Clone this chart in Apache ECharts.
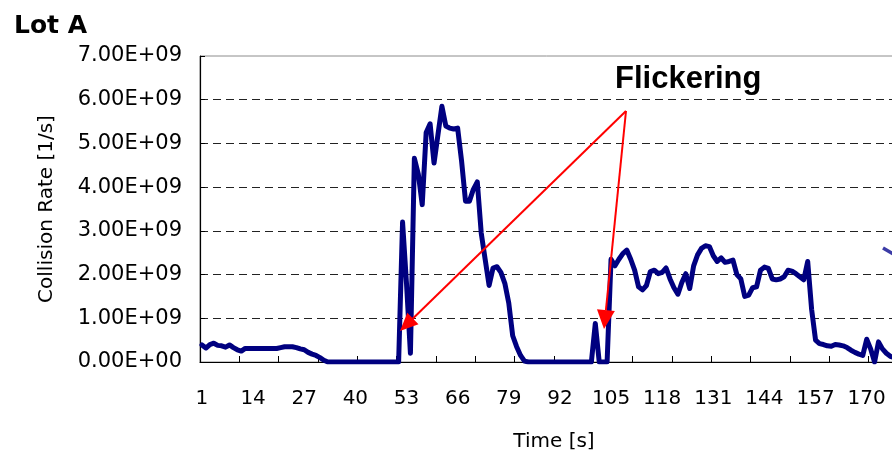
<!DOCTYPE html>
<html>
<head>
<meta charset="utf-8">
<title>Lot A</title>
<script src="https://cdn.jsdelivr.net/npm/echarts@6/dist/echarts.min.js"></script>
<style>
  html, body { margin: 0; padding: 0; background: #fff; }
  #chart { width: 892px; height: 455px; }
</style>
</head>
<body>
<div id="chart"></div>
<script>
// Time axis: one category per second
const timeSec = Array.from({ length: 180 }, (_, i) => i + 1);

// Collision rate per second, in units of 1E+09 [1/s]
const rateE9 = [
  0.39, 0.32, 0.40, 0.43, 0.38, 0.37, 0.34, 0.39, 0.33, 0.28,
  0.25, 0.31, 0.31, 0.31, 0.31, 0.31, 0.31, 0.31, 0.31, 0.31,
  0.33, 0.35, 0.35, 0.35, 0.33, 0.30, 0.28, 0.22, 0.18, 0.15,
  0.10, 0.04, 0, 0, 0, 0, 0, 0, 0, 0,
  0, 0, 0, 0, 0, 0, 0, 0, 0, 0,
  0, 3.20, 1.80, 0.20, 4.66, 4.30, 3.60, 5.25, 5.45, 4.55,
  5.20, 5.85, 5.40, 5.35, 5.33, 5.35, 4.60, 3.68, 3.68, 3.95,
  4.12, 2.95, 2.35, 1.75, 2.15, 2.18, 2.05, 1.80, 1.35, 0.60,
  0.35, 0.15, 0.02, 0, 0, 0, 0, 0, 0, 0,
  0, 0, 0, 0, 0, 0, 0, 0, 0, 0,
  0.88, 0, 0, 0, 2.35, 2.20, 2.35, 2.48, 2.56, 2.35,
  2.10, 1.72, 1.65, 1.75, 2.07, 2.10, 2.02, 2.05, 2.15, 1.90,
  1.70, 1.55, 1.82, 2.02, 1.68, 2.20, 2.45, 2.60, 2.66, 2.64,
  2.43, 2.30, 2.38, 2.28, 2.30, 2.33, 2.00, 1.90, 1.50, 1.53,
  1.70, 1.72, 2.10, 2.17, 2.14, 1.90, 1.88, 1.90, 1.95, 2.10,
  2.08, 2.02, 1.95, 1.88, 2.30, 1.20, 0.50, 0.42, 0.40, 0.37,
  0.36, 0.40, 0.39, 0.37, 0.33, 0.27, 0.22, 0.18, 0.15, 0.52,
  0.30, 0, 0.46, 0.30, 0.20, 0.13, 0.10, 0.08, 0.10, 0.09
];

// Y-axis range and step, in 1/s
const yMin = 0;
const yMax = 7e9;
const yStep = 1e9;

const TEXT_FONT = 'DejaVu Sans';

// Excel-style scientific label, e.g. 3.00E+09
function sciLabel(v) {
  if (v === 0) return '0.00E+00';
  const e = Math.floor(Math.log10(Math.abs(v)) + 1e-9);
  const m = v / Math.pow(10, e);
  return m.toFixed(2) + 'E' + (e < 0 ? '-' : '+') + String(Math.abs(e)).padStart(2, '0');
}

// Straight arrow with a filled triangular head
function arrow(x1, y1, x2, y2, color, headLen, headHalf) {
  const dx = x2 - x1, dy = y2 - y1;
  const len = Math.hypot(dx, dy);
  const ux = dx / len, uy = dy / len;
  const bx = x2 - ux * headLen, by = y2 - uy * headLen;
  return [
    { type: 'line', silent: true, z: 100,
      shape: { x1: x1, y1: y1, x2: bx, y2: by },
      style: { stroke: color, lineWidth: 2 } },
    { type: 'polygon', silent: true, z: 100,
      shape: { points: [[x2, y2], [bx - uy * headHalf, by + ux * headHalf], [bx + uy * headHalf, by - ux * headHalf]] },
      style: { fill: color } }
  ];
}

const chart = echarts.init(document.getElementById('chart'), null, { renderer: 'canvas' });

chart.setOption({
  animation: false,
  backgroundColor: '#ffffff',
  textStyle: { fontFamily: TEXT_FONT },
  title: {
    text: 'Lot A',
    left: 9,
    top: 9,
    textStyle: { fontFamily: TEXT_FONT, fontWeight: 'bold', fontSize: 25, color: '#000' }
  },
  // the plot runs past the right edge of the page
  grid: {
    left: 200,
    top: 56,
    bottom: 93,
    width: 708,
    containLabel: false,
    outerBoundsMode: 'none',
    show: true,
    borderColor: '#8c8c8c',
    borderWidth: 1,
    backgroundColor: 'transparent'
  },
  xAxis: {
    type: 'category',
    data: timeSec,
    boundaryGap: true,
    name: 'Time [s]',
    nameLocation: 'middle',
    nameGap: 70,
    nameTextStyle: { fontFamily: TEXT_FONT, fontSize: 20, color: '#000' },
    axisLine: { show: true, lineStyle: { color: '#000', width: 1.2 } },
    axisTick: { show: true, inside: true, length: 6, interval: 9, lineStyle: { color: '#000' } },
    axisLabel: { interval: 12, margin: 27, fontFamily: TEXT_FONT, fontSize: 20, color: '#000' },
    splitLine: { show: false }
  },
  yAxis: {
    type: 'value',
    min: yMin,
    max: yMax,
    interval: yStep,
    name: 'Collision Rate [1/s]',
    nameLocation: 'middle',
    nameRotate: 90,
    nameGap: 143,
    nameTextStyle: { fontFamily: TEXT_FONT, fontSize: 20, color: '#000' },
    axisLine: { show: true, lineStyle: { color: '#000', width: 1.2 } },
    axisTick: { show: true, inside: true, length: 5, lineStyle: { color: '#000' } },
    axisLabel: { margin: 18, fontFamily: TEXT_FONT, fontSize: 21, color: '#000', formatter: sciLabel },
    splitLine: {
      show: true,
      showMinLine: false,
      showMaxLine: false,
      lineStyle: { color: '#222', width: 1, type: [8, 5] }
    }
  },
  series: [{
    name: 'Collision Rate',
    type: 'line',
    data: rateE9.map(v => v * 1e9),
    showSymbol: false,
    symbol: 'none',
    lineStyle: { color: '#000080', width: 5, cap: 'round', join: 'round' },
    z: 5
  }],
  graphic: [
    { type: 'text', left: 615, top: 64, silent: true, z: 100,
      style: { text: 'Flickering', fontFamily: 'Liberation Sans', fontWeight: 'bold', fontSize: 31, fill: '#000' } }
  ]
    .concat(arrow(626, 111, 400, 331, '#ff0000', 18, 8))
    .concat(arrow(626, 111, 604, 329, '#ff0000', 19, 9))
    .concat([
      { type: 'line', silent: true, z: 90,
        shape: { x1: 883, y1: 248, x2: 902, y2: 259 },
        style: { stroke: '#3b3ba6', lineWidth: 3.5 } }
    ])
});
</script>
</body>
</html>
